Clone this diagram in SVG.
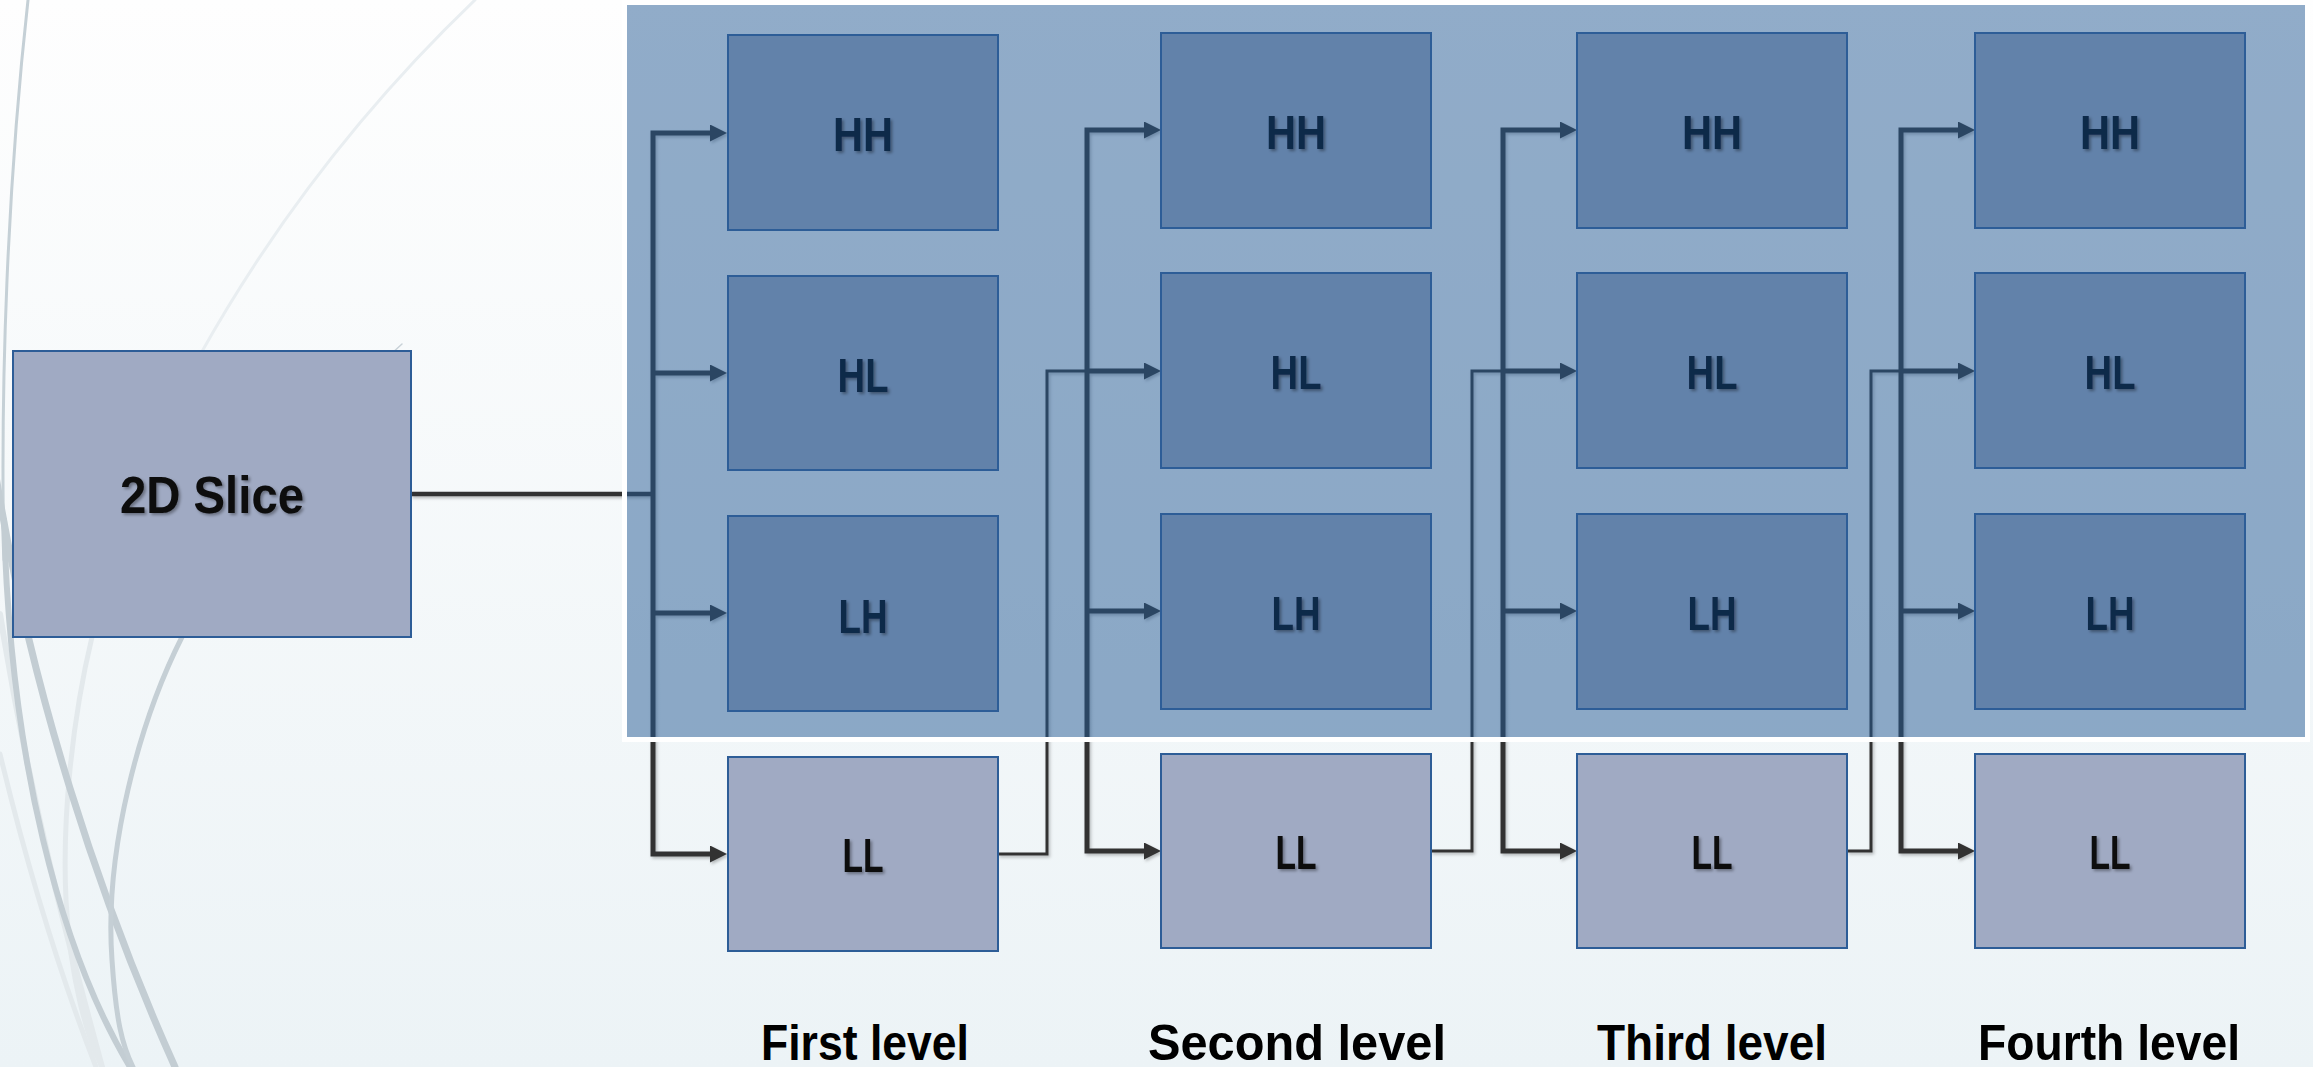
<svg xmlns="http://www.w3.org/2000/svg" width="2313" height="1067" viewBox="0 0 2313 1067">
  <defs>
    <linearGradient id="bg" x1="0" y1="0" x2="0" y2="1">
      <stop offset="0" stop-color="#fefefe"/>
      <stop offset="1" stop-color="#ecf3f6"/>
    </linearGradient>
    <marker id="arr" markerUnits="userSpaceOnUse" viewBox="0 0 17 17" markerWidth="17" markerHeight="17" refX="7" refY="8.5" orient="auto-start-reverse">
      <path d="M0,0 L17,8.5 L0,17 z" fill="#333333"/>
    </marker>
    <filter id="lineShadow" x="-5%" y="-5%" width="110%" height="110%">
      <feDropShadow dx="1.5" dy="2" stdDeviation="1.5" flood-color="#000" flood-opacity="0.25"/>
    </filter>
    <filter id="textShadow" x="-10%" y="-20%" width="130%" height="150%">
      <feDropShadow dx="2" dy="2" stdDeviation="1.5" flood-color="#000" flood-opacity="0.35"/>
    </filter>
    <style>
      .deco { fill: none; stroke-linecap: round; }
      .wire { fill: none; stroke: #333333; stroke-width: 5; stroke-linejoin: miter; }
      .thin { fill: none; stroke: #333333; stroke-width: 3; }
      .band { fill: #a0aac3; stroke: #2d5d97; stroke-width: 2; }
      .sub  { fill: #6282aa; stroke: #2d5d97; stroke-width: 2; }
      .lbl  { font-family: "Liberation Sans Narrow", "Liberation Sans", Arial, sans-serif; font-weight: bold; font-size: 48px; text-anchor: middle; filter: url(#textShadow); }
      .hi   { fill: #11294a; }
      .lo   { fill: #0a0a0a; }
      .title { font-family: "Liberation Sans", Arial, sans-serif; font-weight: bold; font-size: 50px; fill: #000; text-anchor: middle; }
    </style>
  </defs>

  <!-- page background -->
  <rect x="0" y="0" width="2313" height="1067" fill="url(#bg)"/>

  <!-- decorative swoosh curves on the left -->
  <g id="swooshes">
    <path class="deco" d="M475,0 C360,110 270,230 200,355" stroke="#e9eef1" stroke-width="3"/>
    <path class="deco" d="M28,0 C8,180 0,380 4,560" stroke="#c5d0d6" stroke-width="3"/>
    <path class="deco" d="M0,614 C30,800 70,950 102,1067" stroke="#e3e9ec" stroke-width="6"/>
    <path class="deco" d="M0,754 C28,870 62,980 96,1067" stroke="#e3e9ec" stroke-width="5"/>
    <path class="deco" d="M92,637 C72,720 62,820 66,900 C70,980 88,1040 102,1067" stroke="#e3e9ec" stroke-width="5"/>
    <path class="deco" d="M4,520 C10,760 60,950 130,1067" stroke="#c3cdd3" stroke-width="6"/>
    <path class="deco" d="M-5,470 C30,690 100,900 175,1067" stroke="#c3cdd3" stroke-width="7"/>
    <path class="deco" d="M182,637 C140,720 104,850 112,960 C116,1020 122,1045 133,1067" stroke="#c5cfd5" stroke-width="5"/>
    <path class="deco" d="M390,355 L402,344" stroke="#c9d2d8" stroke-width="1.5"/>
  </g>

  <!-- connectors (drawn below the translucent wavelet panel) -->
  <g id="connectors" filter="url(#lineShadow)">
    <!-- input slice to first level -->
    <path class="wire" d="M411,494 H653" style="stroke-width:4.5"/>
    <!-- first level -->
    <path class="wire" d="M717,133 H653 V854 H717" marker-start="url(#arr)" marker-end="url(#arr)"/>
    <path class="wire" d="M653,373 H717" marker-end="url(#arr)"/>
    <path class="wire" d="M653,613 H717" marker-end="url(#arr)"/>
    <!-- LL1 feeds second level -->
    <path class="thin" d="M998,854 H1047 V371 H1087"/>
    <!-- second level -->
    <path class="wire" d="M1151,130 H1087 V851 H1151" marker-start="url(#arr)" marker-end="url(#arr)"/>
    <path class="wire" d="M1087,371 H1151" marker-end="url(#arr)"/>
    <path class="wire" d="M1087,611 H1151" marker-end="url(#arr)"/>
    <!-- LL2 feeds third level -->
    <path class="thin" d="M1431,851 H1472 V371 H1503"/>
    <!-- third level -->
    <path class="wire" d="M1567,130 H1503 V851 H1567" marker-start="url(#arr)" marker-end="url(#arr)"/>
    <path class="wire" d="M1503,371 H1567" marker-end="url(#arr)"/>
    <path class="wire" d="M1503,611 H1567" marker-end="url(#arr)"/>
    <!-- LL3 feeds fourth level -->
    <path class="thin" d="M1847,851 H1871 V371 H1901"/>
    <!-- fourth level -->
    <path class="wire" d="M1965,130 H1901 V851 H1965" marker-start="url(#arr)" marker-end="url(#arr)"/>
    <path class="wire" d="M1901,371 H1965" marker-end="url(#arr)"/>
    <path class="wire" d="M1901,611 H1965" marker-end="url(#arr)"/>
  </g>

  <!-- translucent panel holding the detail sub-bands -->
  <g id="detail-panel">
    <rect x="624.5" y="2.5" width="1683" height="737" fill="none" stroke="#ffffff" stroke-width="5"/>
    <rect x="627" y="5" width="1678" height="732" fill="#245a94" fill-opacity="0.5"/>
  </g>

  <!-- input node -->
  <g id="slice">
    <rect class="band" x="13" y="351" width="398" height="286"/>
    <text class="lbl lo" x="212" y="513" style="font-family:'Liberation Sans', Arial, sans-serif; font-size:52px" textLength="184" lengthAdjust="spacingAndGlyphs">2D Slice</text>
  </g>

  <!-- first level -->
  <g id="hh1"><rect class="sub" x="728" y="35" width="270" height="195"/><text class="lbl hi" x="863" y="151" textLength="60" lengthAdjust="spacingAndGlyphs">HH</text></g>
  <g id="hl1"><rect class="sub" x="728" y="276" width="270" height="194"/><text class="lbl hi" x="863" y="392" textLength="51" lengthAdjust="spacingAndGlyphs">HL</text></g>
  <g id="lh1"><rect class="sub" x="728" y="516" width="270" height="195"/><text class="lbl hi" x="863" y="633" textLength="49" lengthAdjust="spacingAndGlyphs">LH</text></g>
  <g id="ll1"><rect class="band" x="728" y="757" width="270" height="194"/><text class="lbl lo" x="863" y="872" textLength="41" lengthAdjust="spacingAndGlyphs">LL</text></g>

  <!-- second level -->
  <g id="hh2"><rect class="sub" x="1161" y="33" width="270" height="195"/><text class="lbl hi" x="1296" y="149" textLength="60" lengthAdjust="spacingAndGlyphs">HH</text></g>
  <g id="hl2"><rect class="sub" x="1161" y="273" width="270" height="195"/><text class="lbl hi" x="1296" y="389" textLength="51" lengthAdjust="spacingAndGlyphs">HL</text></g>
  <g id="lh2"><rect class="sub" x="1161" y="514" width="270" height="195"/><text class="lbl hi" x="1296" y="630" textLength="49" lengthAdjust="spacingAndGlyphs">LH</text></g>
  <g id="ll2"><rect class="band" x="1161" y="754" width="270" height="194"/><text class="lbl lo" x="1296" y="869" textLength="41" lengthAdjust="spacingAndGlyphs">LL</text></g>

  <!-- third level -->
  <g id="hh3"><rect class="sub" x="1577" y="33" width="270" height="195"/><text class="lbl hi" x="1712" y="149" textLength="60" lengthAdjust="spacingAndGlyphs">HH</text></g>
  <g id="hl3"><rect class="sub" x="1577" y="273" width="270" height="195"/><text class="lbl hi" x="1712" y="389" textLength="51" lengthAdjust="spacingAndGlyphs">HL</text></g>
  <g id="lh3"><rect class="sub" x="1577" y="514" width="270" height="195"/><text class="lbl hi" x="1712" y="630" textLength="49" lengthAdjust="spacingAndGlyphs">LH</text></g>
  <g id="ll3"><rect class="band" x="1577" y="754" width="270" height="194"/><text class="lbl lo" x="1712" y="869" textLength="41" lengthAdjust="spacingAndGlyphs">LL</text></g>

  <!-- fourth level -->
  <g id="hh4"><rect class="sub" x="1975" y="33" width="270" height="195"/><text class="lbl hi" x="2110" y="149" textLength="60" lengthAdjust="spacingAndGlyphs">HH</text></g>
  <g id="hl4"><rect class="sub" x="1975" y="273" width="270" height="195"/><text class="lbl hi" x="2110" y="389" textLength="51" lengthAdjust="spacingAndGlyphs">HL</text></g>
  <g id="lh4"><rect class="sub" x="1975" y="514" width="270" height="195"/><text class="lbl hi" x="2110" y="630" textLength="49" lengthAdjust="spacingAndGlyphs">LH</text></g>
  <g id="ll4"><rect class="band" x="1975" y="754" width="270" height="194"/><text class="lbl lo" x="2110" y="869" textLength="41" lengthAdjust="spacingAndGlyphs">LL</text></g>

  <!-- level captions -->
  <g id="captions">
    <text class="title" x="865" y="1060" textLength="208" lengthAdjust="spacingAndGlyphs">First level</text>
    <text class="title" x="1297" y="1060" textLength="298" lengthAdjust="spacingAndGlyphs">Second level</text>
    <text class="title" x="1712" y="1060" textLength="230" lengthAdjust="spacingAndGlyphs">Third level</text>
    <text class="title" x="2109" y="1060" textLength="262" lengthAdjust="spacingAndGlyphs">Fourth level</text>
  </g>
</svg>
